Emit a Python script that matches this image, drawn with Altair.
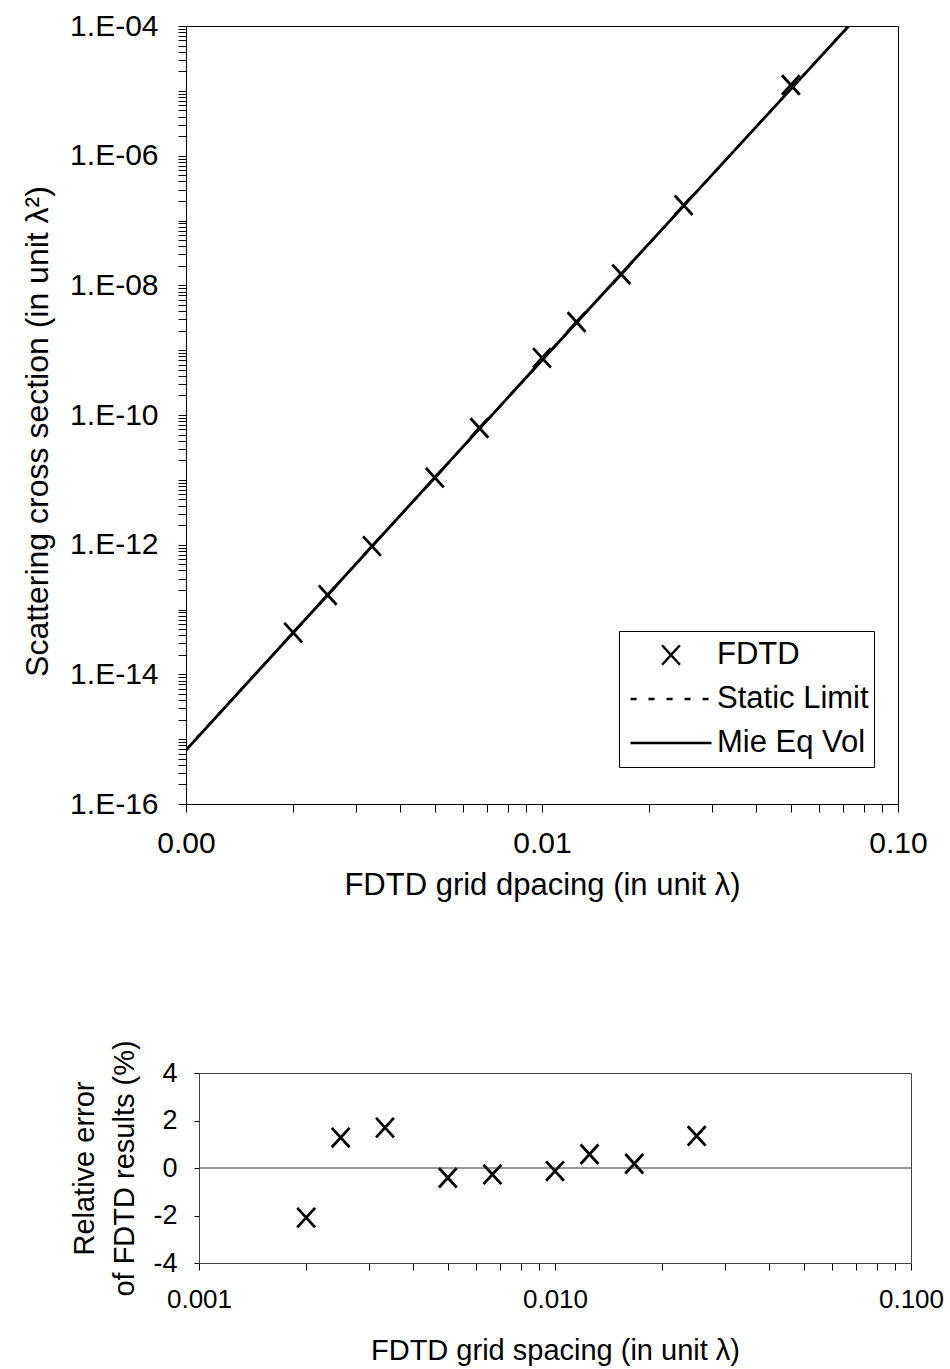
import altair as alt
import pandas as pd

# ---------------- data ----------------
# top panel: FDTD scattering cross sections
fdtd_dx = [0.002, 0.0025, 0.00333, 0.005, 0.00667, 0.01, 0.0125, 0.0167, 0.025, 0.05]
fdtd_sigma = [4.4e-14, 1.67e-13, 9.5e-13, 1.08e-11, 6.3e-11, 7.6e-10, 2.72e-9, 1.48e-8, 1.72e-7, 1.23e-5]

# Mie (equal volume) curve and static limit curve
mie_dx = [0.001, 0.01, 0.0727]
mie_sigma = [6.8e-16, 7.0e-10, 1.0e-4]
static_dx = [0.001, 0.01, 0.0727]
static_sigma = [6.8e-16, 7.0e-10, 1.0e-4]

# bottom panel: relative error (%)
err_dx = [0.002, 0.0025, 0.00333, 0.005, 0.00667, 0.01, 0.0125, 0.0167, 0.025]
err_pct = [-2.09, 1.28, 1.70, -0.41, -0.27, -0.13, 0.58, 0.18, 1.35]

series_names = ["FDTD", "Static Limit", "Mie Eq Vol"]

# axis tick positions
x_ticks = [m * 10.0 ** e for e in (-3, -2) for m in range(1, 10)] + [0.1]
y_ticks = [m * 10.0 ** e for e in range(-16, -4) for m in range(1, 10)] + [1e-4]
err_ticks = [-4, -2, 0, 2, 4]
x_lo, x_hi = 0.001, 0.1

# ---------------- styling ----------------
FONT = "Liberation Sans"
X_PATH = "M-0.22,-0.24L0.22,0.24M-0.22,0.24L0.22,-0.24"
DASH_PATH = "M-1,0H-0.85M-0.556,0H-0.406M-0.111,0H0.039M0.333,0H0.483M0.778,0H0.928"
LINE_PATH = "M-1,0H1"
SYM = 6561

pts = pd.DataFrame({"dx": fdtd_dx, "sigma": fdtd_sigma, "series": "FDTD"})
mie = pd.DataFrame({"dx": mie_dx, "sigma": mie_sigma})
stat = pd.DataFrame({"dx": static_dx, "sigma": static_sigma})
err = pd.DataFrame({"dx": err_dx, "err": err_pct})
zero_df = pd.DataFrame({"x0": [x_lo], "x1": [x_hi], "err": [0]})

is_pow10 = "abs(log(datum.value)/LN10 - round(log(datum.value)/LN10)) < 0.001"
exp_ = "round(log(datum.value)/LN10)"

xscale = alt.Scale(type="log", domain=[x_lo, x_hi], nice=False)
yscale = alt.Scale(type="log", domain=[1e-16, 1e-4], nice=False)

x_axis_top = alt.Axis(
    title="FDTD grid dpacing (in unit λ)", values=x_ticks,
    labelExpr=f"{is_pow10} ? format(datum.value, '.2f') : ''",
    tickSize=8, labelPadding=16, titlePadding=12, labelFontSize=30, titleFontSize=31,
    grid=False, labelFlush=False, labelOverlap=False,
)
y_axis_top = alt.Axis(
    title="Scattering cross section (in unit λ²)", values=y_ticks,
    labelExpr=(f"{is_pow10} && {exp_} % 2 == 0 ? "
               f"'1.E-' + (-{exp_} < 10 ? '0' : '') + (-{exp_}) : ''"),
    tickSize=8, labelPadding=20, labelFontSize=30, titleFontSize=32,
    titleAngle=270, titleBaseline="bottom", titleAlign="center", titleX=-132, titleY=405,
    grid=False, labelFlush=False, labelOverlap=False,
)

static_line = alt.Chart(stat).mark_line(color="black", strokeWidth=2.5, strokeDash=[6, 10], clip=True).encode(
    x=alt.X("dx:Q", scale=xscale, axis=x_axis_top),
    y=alt.Y("sigma:Q", scale=yscale, axis=y_axis_top),
)
mie_line = alt.Chart(mie).mark_line(color="black", strokeWidth=2.8, clip=True).encode(
    x=alt.X("dx:Q", scale=xscale),
    y=alt.Y("sigma:Q", scale=yscale),
)
fdtd_pts = alt.Chart(pts).mark_point(filled=False, color="black", strokeWidth=2.8, size=SYM, opacity=1).encode(
    x=alt.X("dx:Q", scale=xscale),
    y=alt.Y("sigma:Q", scale=yscale),
    shape=alt.Shape(
        "series:N",
        scale=alt.Scale(domain=series_names, range=[X_PATH, DASH_PATH, LINE_PATH]),
        legend=alt.Legend(
            title=None, orient="none", legendX=433, legendY=605,
            clipHeight=38, rowPadding=6, padding=5, symbolOffset=5,
            symbolSize=SYM, symbolStrokeWidth=2.5, symbolStrokeColor="black",
            symbolFillColor="transparent", labelFontSize=31, labelOffset=4,
            labelColor="black", strokeColor="black", fillColor="white", labelFont=FONT,
        ),
    ),
)

top = alt.layer(static_line, mie_line, fdtd_pts).properties(
    width=712, height=778, view=alt.ViewBackground(stroke="black", strokeWidth=1)
)

# ---------------- bottom panel ----------------
xscale_bot = alt.Scale(type="log", domain=[x_lo, x_hi], nice=False, range=[13, 725])
yscale_bot = alt.Scale(domain=[-4, 4], nice=False)

x_axis_bot = alt.Axis(
    title="FDTD grid spacing (in unit λ)", values=x_ticks,
    labelExpr=f"{is_pow10} ? format(datum.value, '.3f') : ''",
    tickSize=7, labelPadding=16, titlePadding=24, labelFontSize=26, titleFontSize=29,
    grid=False, labelFlush=False, labelOverlap=False, domainColor="#444",
)
y_axis_bot = alt.Axis(
    title=["Relative error", "of FDTD results (%)"], values=err_ticks,
    labelExpr="'' + datum.value",
    tickSize=5, labelPadding=17, labelFontSize=27, titleFontSize=29, offset=-13,
    titleAngle=270, titleBaseline="bottom", titleAlign="center", titleX=-100,
    titleLineHeight=40, grid=False, labelFlush=False, domainColor="#444",
)
err_pts = alt.Chart(err).mark_point(filled=False, color="black", strokeWidth=2.8, size=SYM,
                                    shape=X_PATH, opacity=1).encode(
    x=alt.X("dx:Q", scale=xscale_bot, axis=x_axis_bot),
    y=alt.Y("err:Q", scale=yscale_bot, axis=y_axis_bot),
)
zero = alt.Chart(zero_df).mark_rule(color="#333", strokeWidth=1.2).encode(
    x=alt.X("x0:Q", scale=xscale_bot,
            axis=alt.Axis(orient="top", title=None, labels=False, ticks=False, grid=False,
                          domainColor="#444")),
    x2="x1:Q",
    y=alt.Y("err:Q", scale=yscale_bot,
            axis=alt.Axis(orient="right", title=None, labels=False, ticks=False, grid=False,
                          domainColor="#444")),
)
bottom = alt.layer(err_pts, zero).resolve_axis(x="independent", y="independent").properties(
    width=725, height=190, view=alt.ViewBackground(stroke="transparent")
)

chart = alt.vconcat(top, bottom, spacing=269, bounds="flush").properties(
    padding={"left": 20, "top": 10, "right": 5, "bottom": 5}
).configure_axis(
    labelFont=FONT, titleFont=FONT, labelColor="black", titleColor="black",
    domainColor="black", tickColor="black", titleFontWeight="normal",
).configure_legend(labelFont=FONT)

chart.save("out.html", embed_options={"renderer": "svg", "actions": False})
